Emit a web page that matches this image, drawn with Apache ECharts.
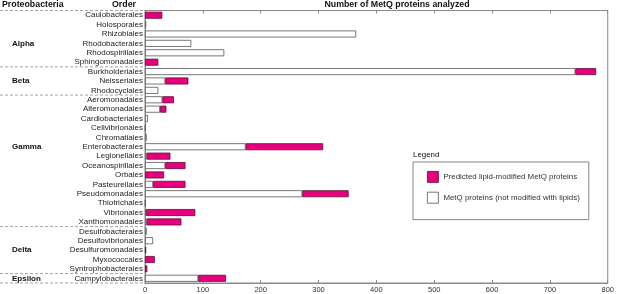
<!DOCTYPE html>
<html>
<head>
<meta charset="utf-8">
<script src="https://cdn.jsdelivr.net/npm/echarts@6/dist/echarts.min.js"></script>
<style>
  html, body { margin: 0; padding: 0; background: #fff; }
  #chart { width: 617px; height: 294px; }
</style>
</head>
<body>
<div id="chart"></div>
<script>
const orders = [
  'Caulobacterales', 'Holosporales', 'Rhizobiales', 'Rhodobacterales', 'Rhodospirillales', 'Sphingomonadales',
  'Burkholderiales', 'Neisseriales', 'Rhodocyclales',
  'Aeromonadales', 'Alteromonadales', 'Cardiobacteriales', 'Cellvibrionales', 'Chromatiales', 'Enterobacterales',
  'Legionellales', 'Oceanospirillales', 'Orbales', 'Pasteurellales', 'Pseudomonadales', 'Thiotrichales',
  'Vibrionales', 'Xanthomonadales',
  'Desulfobacterales', 'Desulfovibrionales', 'Desulfuromonadales', 'Myxococcales', 'Syntrophobacterales',
  'Campylobacterales'
];
// MetQ proteins not modified with lipids
const plainCounts = [
  0, 2, 365, 80, 137, 0,
  744, 35, 23,
  30, 26, 5, 1, 3, 174,
  3, 35, 0, 14, 272, 1,
  2, 3,
  3, 14, 0, 0, 0,
  92
];
// predicted lipid-modified MetQ proteins
const lipidCounts = [
  30, 0, 0, 0, 0, 23,
  36, 40, 0,
  20, 11, 0, 0, 0, 134,
  41, 35, 33, 56, 80, 0,
  85, 60,
  0, 0, 2, 17, 4,
  48
];
const xTicks = [0, 100, 200, 300, 400, 500, 600, 700, 800];
const groups = [
  { name: 'Alpha', first: 'Caulobacterales', last: 'Sphingomonadales', labelAt: 'Rhodobacterales' },
  { name: 'Beta', first: 'Burkholderiales', last: 'Rhodocyclales', labelAt: 'Neisseriales' },
  { name: 'Gamma', first: 'Aeromonadales', last: 'Xanthomonadales', labelAt: 'Enterobacterales' },
  { name: 'Delta', first: 'Desulfobacterales', last: 'Syntrophobacterales', labelAt: 'Desulfuromonadales' },
  { name: 'Epsilon', first: 'Campylobacterales', last: 'Campylobacterales', labelAt: 'Campylobacterales' }
];
const lipidName = 'Predicted lipid-modified MetQ proteins';
const plainName = 'MetQ proteins (not modified with lipids)';

const FONT = '"Liberation Sans", Arial, Helvetica, sans-serif';
const GRID_LINE = '#8a8a8a';

const xAxisBase = {
  type: 'value',
  min: xTicks[0],
  max: xTicks[xTicks.length - 1],
  interval: xTicks[1] - xTicks[0],
  splitLine: { show: false },
  axisLine: { show: true, lineStyle: { color: GRID_LINE, width: 1 } },
  axisTick: { show: true, inside: true, length: 3, lineStyle: { color: GRID_LINE } }
};

// empty segments are left out so no stray outline is drawn
const orBlank = v => (v === 0 ? '-' : v);

const option = {
  animation: false,
  textStyle: { fontFamily: FONT },
  grid: {
    left: 145, right: 6, top: 10.5, bottom: 10,
    show: true, borderColor: GRID_LINE, borderWidth: 1
  },
  legend: {
    data: [lipidName, plainName],
    orient: 'vertical',
    left: 413,
    top: 162,
    icon: 'rect',
    itemWidth: 11,
    itemHeight: 11,
    itemGap: 9,
    padding: [9, 9, 16, 14],
    borderColor: '#666',
    borderWidth: 0.8,
    itemStyle: { borderWidth: 0.8 },
    textStyle: { fontSize: 7.9, color: '#333', fontFamily: FONT }
  },
  xAxis: [
    Object.assign({}, xAxisBase, {
      position: 'bottom',
      axisLabel: { fontSize: 7.5, color: '#333', margin: 3, fontFamily: FONT }
    }),
    Object.assign({}, xAxisBase, {
      position: 'top',
      axisLabel: { show: false }
    })
  ],
  yAxis: {
    type: 'category',
    data: orders,
    inverse: true,
    axisLine: { show: true, lineStyle: { color: GRID_LINE, width: 1 } },
    axisTick: { show: false },
    axisLabel: { fontSize: 8, color: '#222', margin: 2, fontFamily: FONT, interval: 0 }
  },
  series: [
    {
      name: plainName,
      type: 'bar',
      stack: 'total',
      data: plainCounts.map(orBlank),
      barWidth: 7,
      itemStyle: { color: '#ffffff', borderColor: '#555', borderWidth: 0.8 }
    },
    {
      name: lipidName,
      type: 'bar',
      stack: 'total',
      data: lipidCounts.map(orBlank),
      barWidth: 7,
      itemStyle: { color: '#e6007e', borderColor: '#5a1035', borderWidth: 0.8 }
    }
  ]
};

const chart = echarts.init(document.getElementById('chart'), null, { renderer: 'canvas' });
chart.setOption(option);

// header texts, group labels and dashed separators, placed from the category scale
const rowY = name => chart.convertToPixel({ yAxisIndex: 0 }, name);
const band = rowY(orders[1]) - rowY(orders[0]);

function label(text, x, y, bold, align, size) {
  return {
    type: 'text', x: x, y: y, silent: true,
    style: {
      text: text,
      font: (bold ? 'bold ' : '') + (size || 8) + 'px ' + FONT,
      fill: '#111',
      align: align || 'left', verticalAlign: 'middle',
      textAlign: align || 'left', textVerticalAlign: 'middle'
    }
  };
}
function dash(y) {
  return {
    type: 'line', silent: true,
    shape: { x1: 0, y1: y, x2: 143, y2: y },
    style: { stroke: '#8a8a8a', lineWidth: 0.8, lineDash: [3, 2] }
  };
}

const elements = [
  label('Proteobacteria', 2, 4.5, true, 'left', 8.8),
  label('Order', 112, 4.5, true, 'left', 8.8),
  label('Number of MetQ proteins analyzed', 397, 4.5, true, 'center', 8.8),
  label('Legend', 413, 155, false, 'left', 7.9)
];
groups.forEach((g, i) => {
  const top = rowY(g.first) - band / 2;
  const bottom = rowY(g.last) + band / 2;
  if (i === 0) elements.push(dash(top));
  elements.push(dash(bottom));
  elements.push(label(g.name, 12, rowY(g.labelAt), true));
});
chart.setOption({ graphic: { elements: elements } });
</script>
</body>
</html>
